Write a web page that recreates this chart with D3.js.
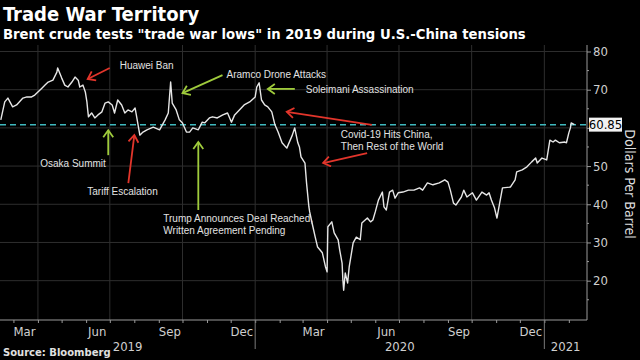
<!DOCTYPE html>
<html>
<head>
<meta charset="utf-8">
<script src="https://cdn.jsdelivr.net/npm/d3@7"></script>
<style>
  body { margin: 0; background: #000; }
  svg { display: block; }
  .axis-label { font-family: "Liberation Sans Narrow", "DejaVu Sans Condensed", sans-serif; fill: #cfcfcf; }
  .note { font-family: "Liberation Sans", "DejaVu Sans", sans-serif; font-size: 10px; fill: #e2e2e2; }
</style>
</head>
<body>
<div id="chart"></div>
<script>
// Brent crude
let dates = [
  "2019-02-13","2019-02-18","2019-02-22","2019-02-28","2019-03-05","2019-03-13","2019-03-18","2019-03-24","2019-03-28",
  "2019-04-01","2019-04-06","2019-04-10","2019-04-14","2019-04-20","2019-04-25","2019-04-26","2019-05-01","2019-05-05",
  "2019-05-09","2019-05-14","2019-05-18","2019-05-22","2019-05-24","2019-05-28","2019-05-31","2019-06-02","2019-06-03",
  "2019-06-04","2019-06-08","2019-06-12","2019-06-16","2019-06-21","2019-06-25","2019-06-29","2019-07-04","2019-07-07",
  "2019-07-11","2019-07-16","2019-07-20","2019-07-24","2019-07-29","2019-08-02","2019-08-04","2019-08-08","2019-08-12",
  "2019-08-17","2019-08-25","2019-09-02","2019-09-09","2019-09-13","2019-09-16","2019-09-18","2019-09-23","2019-09-27",
  "2019-10-01","2019-10-06","2019-10-10","2019-10-14","2019-10-21","2019-10-26","2019-10-29","2019-11-04","2019-11-08",
  "2019-11-14","2019-11-21","2019-11-27","2019-12-02","2019-12-06","2019-12-12","2019-12-18","2019-12-25","2020-01-01",
  "2020-01-03","2020-01-06","2020-01-09","2020-01-13","2020-01-17","2020-01-22","2020-01-26","2020-01-30","2020-02-04",
  "2020-02-10","2020-02-17","2020-02-20","2020-02-24","2020-02-26","2020-02-28","2020-03-04","2020-03-06","2020-03-09",
  "2020-03-10","2020-03-13","2020-03-17","2020-03-20","2020-03-26","2020-03-30","2020-04-01","2020-04-02","2020-04-07",
  "2020-04-10","2020-04-15","2020-04-17","2020-04-20","2020-04-21","2020-04-22","2020-04-24","2020-04-27","2020-04-29",
  "2020-05-04","2020-05-08","2020-05-13","2020-05-15","2020-05-22","2020-05-26","2020-05-29","2020-06-01","2020-06-05",
  "2020-06-10","2020-06-12","2020-06-15","2020-06-19","2020-06-23","2020-06-26","2020-06-30","2020-07-06","2020-07-13",
  "2020-07-20","2020-07-27","2020-07-31","2020-08-06","2020-08-13","2020-08-21","2020-08-28","2020-09-01","2020-09-04",
  "2020-09-08","2020-09-11","2020-09-18","2020-09-21","2020-09-25","2020-10-02","2020-10-07","2020-10-14","2020-10-20",
  "2020-10-23","2020-10-26","2020-10-30","2020-11-02","2020-11-05","2020-11-09","2020-11-19","2020-11-25","2020-11-27",
  "2020-12-04","2020-12-10","2020-12-16","2020-12-21","2020-12-23","2020-12-29","2021-01-04","2021-01-06","2021-01-08",
  "2021-01-12","2021-01-15","2021-01-20","2021-01-27","2021-01-29","2021-02-01","2021-02-03","2021-02-04","2021-02-08"
]
let prices = [
  62.1, 66.8, 67.8, 65.5, 66.0, 67.8, 68.1, 68.1, 68.6,
  69.4, 70.4, 71.2, 72.0, 72.5, 74.6, 75.7, 73.1, 71.2,
  70.7, 72.0, 73.3, 72.5, 70.7, 71.2, 69.4, 66.8, 64.7,
  62.9, 63.9, 62.6, 63.4, 64.2, 66.5, 66.8, 66.0, 63.9,
  67.3, 66.0, 63.9, 64.7, 64.2, 65.2, 62.9, 58.1, 58.9,
  59.5, 60.2, 59.5, 62.1, 63.9, 72.0, 66.5, 64.7, 62.1,
  61.3, 58.9, 58.9, 60.0, 59.5, 61.5, 61.3, 62.6, 62.9,
  62.6, 63.4, 63.9, 61.5, 63.4, 64.7, 66.0, 66.8, 68.1,
  70.7, 71.8, 67.3, 66.0, 65.5, 64.2, 60.8, 58.9, 56.1,
  54.7, 58.1, 60.0, 56.1, 55.0, 52.4, 50.8, 45.6, 39.3,
  38.0, 35.1, 31.4, 28.8, 27.3, 23.6, 22.3, 34.1, 35.4,
  32.5, 30.7, 28.0, 24.6, 20.2, 17.5, 22.0, 19.4, 23.6,
  29.9, 31.4, 30.7, 35.1, 36.4, 35.4, 35.9, 38.0, 41.1,
  43.2, 39.3, 38.5, 43.2, 43.7, 41.6, 43.0, 43.2, 43.7,
  43.7, 44.3, 43.7, 45.6, 45.1, 45.6, 46.4, 45.8, 43.7,
  40.3, 39.8, 41.9, 43.7, 41.9, 43.0, 41.1, 43.2, 42.4,
  43.0, 41.1, 39.0, 36.4, 39.8, 44.3, 44.5, 46.4, 48.5,
  49.0, 49.8, 51.1, 52.1, 50.8, 52.1, 51.6, 54.2, 56.8,
  56.3, 56.8, 56.1, 56.3, 56.1, 58.7, 60.0, 61.3, 60.85
]
let priceTicks = [20, 30, 40, 50, 60, 70, 80]
let minorTicks = [15, 25, 35, 45, 55, 65, 75]
let monthLabels = ["2019-03", "2019-06", "2019-09", "2019-12", "2020-03", "2020-06", "2020-09", "2020-12"]
let yearLabels = ["2019", "2020", "2021"]
let lastPrice = 60.85
let events = [
  ["Huawei Ban"],
  ["Aramco Drone Attacks"],
  ["Soleimani Assassination"],
  ["Covid-19 Hits China,", "Then Rest of the World"],
  ["Osaka Summit"],
  ["Tariff Escalation"],
  ["Trump Announces Deal Reached,", "Written Agreement Pending"]
]

let width = 640,
    height = 360,
    plotTop = 45,
    plotBottom = 320,
    plotRight = 587

let parseDay = d3.utcParse("%Y-%m-%d")
let parseMonth = d3.utcParse("%Y-%m")
let series = dates.map((d, i) => ({ date: parseDay(d), price: prices[i] }))

let x = d3.scaleUtc()
  .domain([parseDay("2019-02-12"), parseDay("2021-02-24")])
  .range([0, plotRight])

let y = d3.scaleLinear()
  .domain([9.7, 81.7])
  .range([plotBottom, plotTop])

let svg = d3.select("#chart").append("svg")
  .attr("width", width)
  .attr("height", height)
  .style("background", "#000")

let red = "#e2352b", green = "#9fcb3c"
let defs = svg.append("defs")
;[["red", red], ["green", green]].forEach(([id, c]) => {
  defs.append("marker")
    .attr("id", "head-" + id)
    .attr("viewBox", "-8 -6 10 12")
    .attr("markerWidth", 10).attr("markerHeight", 12)
    .attr("markerUnits", "userSpaceOnUse")
    .attr("orient", "auto")
    .append("path")
    .attr("d", "M-7,-5 L0,0 L-7,5")
    .attr("fill", "none")
    .attr("stroke", c)
    .attr("stroke-width", 1.8)
})

// grid
let grid = svg.append("g").attr("stroke", "#2e2e2e").attr("stroke-width", 1)
grid.selectAll(".h").data(priceTicks).enter().append("line")
  .attr("x1", 0).attr("x2", plotRight)
  .attr("y1", d => y(d)).attr("y2", d => y(d))
grid.selectAll(".v").data(x.ticks(d3.utcMonth.every(3))).enter().append("line")
  .attr("x1", d => x(d)).attr("x2", d => x(d))
  .attr("y1", plotTop).attr("y2", plotBottom)

// last price reference line
svg.append("line")
  .attr("x1", 0).attr("x2", plotRight)
  .attr("y1", y(lastPrice)).attr("y2", y(lastPrice))
  .attr("stroke", "#3fb8bd")
  .attr("stroke-width", 1.5)
  .attr("stroke-dasharray", "6,4")

// price line
svg.append("path")
  .datum(series)
  .attr("fill", "none")
  .attr("stroke", "#e6e6e6")
  .attr("stroke-width", 1.4)
  .attr("stroke-linejoin", "round")
  .attr("d", d3.line().x(d => x(d.date)).y(d => y(d.price)))

// right axis (the 60 label sits under the last-price tag)
let yAxis = svg.append("g")
  .attr("transform", `translate(${plotRight},0)`)
  .call(d3.axisRight(y).tickValues(priceTicks).tickSize(4).tickPadding(2)
    .tickFormat(d => d == 60 ? "" : d))
yAxis.select(".domain").remove()
yAxis.selectAll("line").attr("stroke", "#9a9a9a")
yAxis.selectAll("text").attr("class", "axis-label").style("font-size", "13px").attr("fill", null)
svg.append("g")
  .attr("transform", `translate(${plotRight},0)`)
  .selectAll("line").data(minorTicks).enter().append("line")
  .attr("x1", 0).attr("x2", 2)
  .attr("y1", d => y(d)).attr("y2", d => y(d))
  .attr("stroke", "#9a9a9a")
svg.append("line")
  .attr("x1", plotRight).attr("x2", plotRight)
  .attr("y1", plotTop).attr("y2", plotBottom)
  .attr("stroke", "#9a9a9a")

// last price tag
let tag = svg.append("g").attr("transform", `translate(${plotRight + 2},${y(lastPrice)})`)
tag.append("rect").attr("x", 0).attr("y", -7).attr("width", 33).attr("height", 14).attr("fill", "#f2f2f2")
tag.append("text").attr("class", "axis-label")
  .attr("x", 16.5).attr("y", 4.5).attr("text-anchor", "middle")
  .style("font-size", "13px").style("fill", "#000")
  .text(d3.format(".2f")(lastPrice))

svg.append("text").attr("class", "axis-label")
  .attr("transform", `translate(625,184) rotate(90)`)
  .attr("text-anchor", "middle")
  .style("font-size", "14px").style("fill", "#dcdcdc")
  .text("Dollars Per Barrel")

// bottom axis
let xAxis = svg.append("g")
  .attr("transform", `translate(0,${plotBottom})`)
  .call(d3.axisBottom(x).ticks(d3.utcMonth.every(1)).tickSize(3).tickFormat(""))
xAxis.select(".domain").attr("stroke", "#9a9a9a").attr("d", `M0,0H${plotRight}`)
xAxis.selectAll("line").attr("stroke", "#9a9a9a")

let midMonth = m => x(d3.utcDay.offset(parseMonth(m), 14))
svg.selectAll(".month").data(monthLabels).enter().append("text")
  .attr("class", "axis-label")
  .attr("x", d => midMonth(d)).attr("y", 336)
  .attr("text-anchor", "middle")
  .style("font-size", "13px")
  .text(d => d3.utcFormat("%b")(parseMonth(d)))

svg.selectAll(".year").data(yearLabels).enter().append("text")
  .attr("class", "axis-label")
  .attr("x", d => {
    let a = Math.max(x(parseDay(d + "-01-01")), 0)
    let b = Math.min(x(parseDay((+d + 1) + "-01-01")), plotRight)
    return (a + b) / 2
  })
  .attr("y", 351)
  .attr("text-anchor", "middle")
  .style("font-size", "13px")
  .text(d => d)

svg.selectAll(".yearsep").data(yearLabels.slice(1)).enter().append("line")
  .attr("x1", d => x(parseDay(d + "-01-01"))).attr("x2", d => x(parseDay(d + "-01-01")))
  .attr("y1", plotBottom).attr("y2", 349)
  .attr("stroke", "#7a7a7a")

// annotations: arrow head anchored on a date/price, tail and text offset in pixels
let notes = [
  { ev: 0, color: "red",   at: ["2019-06-03", 72.8], tail: [22, -11], text: [32, -10] },
  { ev: 1, color: "green", at: ["2019-10-01", 69.1], tail: [40, -18], text: [44, -15] },
  { ev: 2, color: "green", at: ["2020-01-17", 70.2], tail: [27, 0],   text: [38, 4] },
  { ev: 3, color: "red",   at: ["2020-02-10", 64.2], tail: [85, 13],  text: [54, 26] },
  { ev: 3, color: "red",   at: ["2020-03-27", 50.8], tail: [44, -10], text: null },
  { ev: 4, color: "green", at: ["2019-06-29", 59.4], tail: [0, 25],   text: [-68, 37] },
  { ev: 5, color: "red",   at: ["2019-08-01", 58.1], tail: [-6, 48],  text: [-47, 60] },
  { ev: 6, color: "green", at: ["2019-10-21", 56.3], tail: [0, 68],   text: [-35, 80] }
]
let noteG = svg.append("g")
notes.forEach(n => {
  let hx = x(parseDay(n.at[0])), hy = y(n.at[1])
  noteG.append("line")
    .attr("x1", hx + n.tail[0]).attr("y1", hy + n.tail[1])
    .attr("x2", hx).attr("y2", hy)
    .attr("stroke", n.color == "red" ? red : green)
    .attr("stroke-width", 1.8)
    .attr("marker-end", `url(#head-${n.color})`)
  if (n.text) {
    let t = noteG.append("text").attr("class", "note")
      .attr("x", hx + n.text[0]).attr("y", hy + n.text[1])
    events[n.ev].forEach((s, i) => {
      t.append("tspan").attr("x", hx + n.text[0]).attr("dy", i ? 12 : 0).text(s)
    })
  }
})

// titles
svg.append("text")
  .attr("x", 3).attr("y", 21)
  .style("font-family", "'DejaVu Sans Condensed', 'DejaVu Sans', sans-serif")
  .style("font-weight", "bold").style("font-size", "20px").style("fill", "#fff")
  .text("Trade War Territory")
svg.append("text")
  .attr("x", 3).attr("y", 39)
  .style("font-family", "'DejaVu Sans Condensed', 'DejaVu Sans', sans-serif")
  .style("font-weight", "bold").style("font-size", "14.7px").style("fill", "#fff")
  .text("Brent crude tests \"trade war lows\" in 2019 during U.S.-China tensions")
svg.append("text")
  .attr("x", 3).attr("y", 356)
  .style("font-family", "'DejaVu Sans', sans-serif")
  .style("font-weight", "bold").style("font-size", "10px").style("fill", "#e0e0e0")
  .text("Source: Bloomberg")
</script>
</body>
</html>
